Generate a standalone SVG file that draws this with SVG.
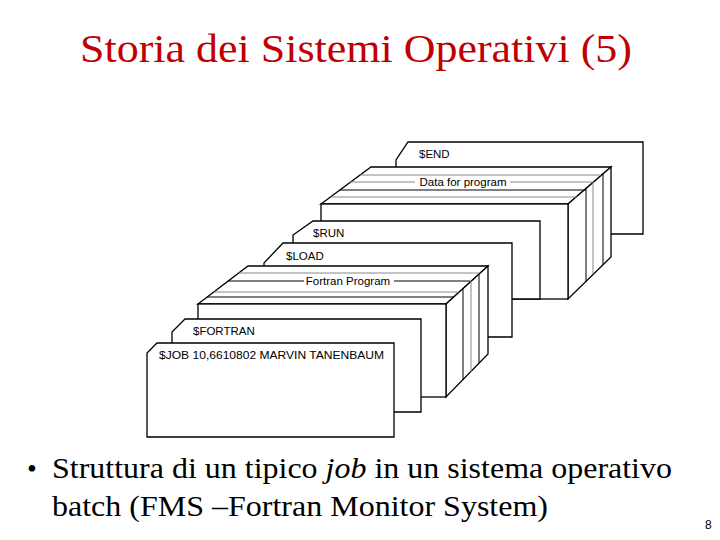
<svg xmlns="http://www.w3.org/2000/svg" width="720" height="540" viewBox="0 0 720 540">
<style>
.c{fill:#fff;stroke:#000;stroke-width:1.3;stroke-linejoin:miter}
.l{stroke:#000;stroke-width:1}
.g{stroke:#888;stroke-width:1}
.t{font-family:"Liberation Sans",Arial,sans-serif;font-size:11.5px;fill:#000}
.s{font-family:"Liberation Serif","Times New Roman",serif;fill:#000}
</style>
<rect width="720" height="540" fill="#fff"/>
<text class="s" x="80" y="62" font-size="41" textLength="552" lengthAdjust="spacingAndGlyphs" style="fill:#c00000">Storia dei Sistemi Operativi (5)</text>
<g id="end">
<path class="c" d="M396,299 V160 L408,142 H643 V234 H396 Z"/>
<text class="t" x="419" y="158">$END</text>
</g>
<g id="data">
<path class="c" d="M321,204 L371,167 H611 L568,204 Z"/>
<path class="c" d="M568,204 L611,167 V257 L568,299 Z"/>
<rect class="c" x="321" y="204" width="247" height="95"/>
<line class="g" x1="360" y1="175" x2="601" y2="175"/>
<line class="g" x1="350" y1="182" x2="415" y2="182"/>
<line class="g" x1="510" y1="182" x2="594" y2="182"/>
<line class="l" x1="340" y1="190" x2="586" y2="190"/>
<line class="g" x1="331" y1="197" x2="577" y2="197"/>
<line class="l" x1="586" y1="189" x2="586" y2="281"/>
<line class="g" x1="593" y1="183" x2="593" y2="274"/>
<line class="l" x1="603" y1="174" x2="603" y2="265"/>
<text class="t" x="463" y="186" text-anchor="middle">Data for program</text>
</g>
<g id="run">
<path class="c" d="M293,330 V235 L313,221 H540 V299 H293 Z"/>
<text class="t" x="313" y="237">$RUN</text>
</g>
<g id="load">
<path class="c" d="M264,337 V263 L283,243 H512 V337 Z"/>
<text class="t" x="286" y="260">$LOAD</text>
</g>
<g id="fortran-program">
<path class="c" d="M198,304 L248,266 H488 L446,304 Z"/>
<path class="c" d="M446,304 L488,266 V354 L446,397 Z"/>
<rect class="c" x="198" y="304" width="248" height="93"/>
<line class="g" x1="239" y1="273" x2="479" y2="273"/>
<line class="l" x1="228" y1="281" x2="304" y2="281"/>
<line class="l" x1="394" y1="281" x2="470" y2="281"/>
<line class="g" x1="214" y1="292" x2="459" y2="292"/>
<line class="l" x1="207" y1="297" x2="454" y2="297"/>
<line class="l" x1="463" y1="289" x2="463" y2="380"/>
<line class="g" x1="471" y1="281" x2="471" y2="372"/>
<line class="l" x1="479" y1="274" x2="479" y2="363"/>
<text class="t" x="348" y="285" text-anchor="middle">Fortran Program</text>
</g>
<g id="fortran">
<path class="c" d="M172,412 V332 L185,319 H421 V412 Z"/>
<text class="t" x="193" y="335">$FORTRAN</text>
</g>
<g id="job">
<path class="c" d="M147,437 V353 L157,343 H394 V437 Z"/>
<text class="t" x="159" y="359" textLength="225" lengthAdjust="spacingAndGlyphs">$JOB  10,6610802  MARVIN TANENBAUM</text>
</g>
<g id="connectors"/>
<text class="s" x="27" y="478" font-size="28">•</text>
<text class="s" x="52" y="478" font-size="29" textLength="620" lengthAdjust="spacingAndGlyphs">Struttura di un tipico <tspan font-style="italic">job</tspan> in un sistema operativo</text>
<text class="s" x="52" y="516" font-size="29" textLength="496" lengthAdjust="spacingAndGlyphs">batch (FMS –Fortran Monitor System)</text>
<text class="t" x="705" y="529" style="font-size:12px">8</text>
</svg>
